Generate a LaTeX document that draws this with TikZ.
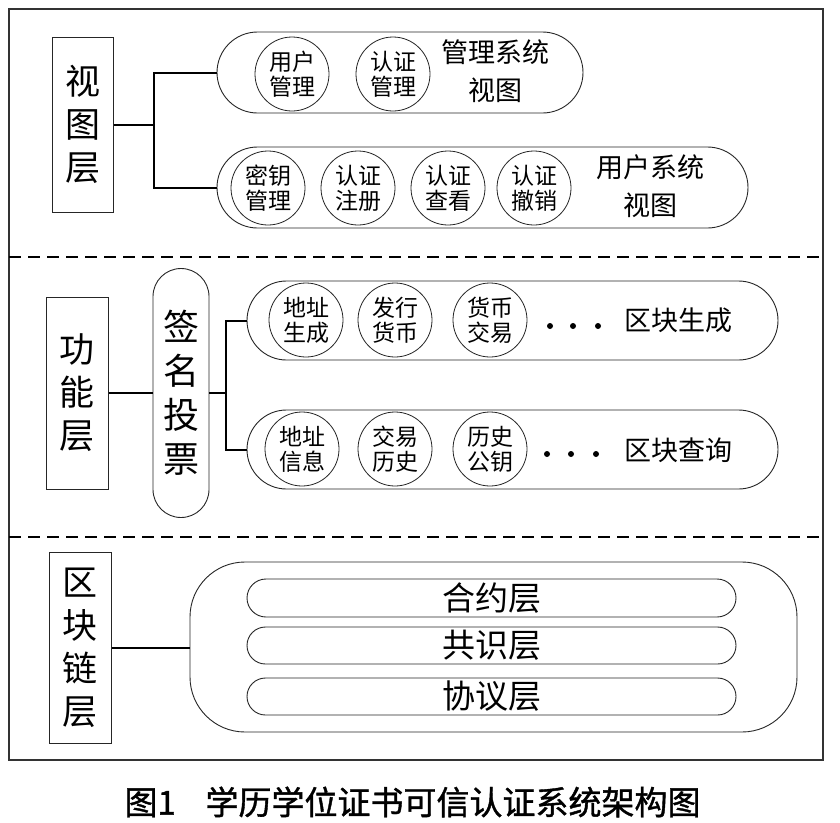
\documentclass[tikz,border=0pt]{standalone}
\usepackage{fontspec}
\setmainfont{Noto Sans CJK SC}
\newfontfamily\capfont[FakeBold=1.2]{Noto Sans CJK SC}
\begin{document}
\begin{tikzpicture}[x=1pt,y=-1pt,
  layerbox/.style={draw=black!85, line width=1pt, inner sep=0pt, align=center, font=\fontsize{35}{43}\selectfont},
  capsule/.style={draw=black!85, line width=0.9pt, rounded corners=#1, inner sep=0pt},
  circ/.style={draw=black!85, circle, line width=0.8pt, minimum size=74pt, inner sep=0pt, align=center, font=\fontsize{23}{25}\selectfont},
  ttl/.style={align=center, font=\fontsize{27}{38}\selectfont},
  inner/.style={align=center, font=\fontsize{33}{38}\selectfont},
  conn/.style={line width=2pt},
  sepline/.style={line width=1.8pt, dash pattern=on 12pt off 7pt},
  dotm/.style={fill=black, circle, inner sep=0pt, minimum size=6pt}
]
\useasboundingbox (0,0) rectangle (840,822);
\fill[white] (0,0) rectangle (840,822);
% outer frame
\draw[black!80, line width=1.2pt] (9,9) rectangle (823,760);
\draw[sepline] (9,257) -- (823,257);
\draw[sepline] (9,537) -- (823,537);

% ===== view layer =====
\node[layerbox, minimum width=61pt, minimum height=175pt] (vbox) at (82.5,124.5) {视\\图\\层};
\node[capsule=40.5pt, minimum width=366pt, minimum height=81pt] (cap1) at (400,72.5) {};
\node[capsule=40.5pt, minimum width=531pt, minimum height=81pt] (cap2) at (482.5,187.5) {};
\coordinate (vj) at (154,124.5);
\draw[conn] (vbox.east) -- (vj);
\draw[conn] (cap1.west) -| (vj);
\draw[conn] (cap2.west) -| (vj);
\node[circ] (c11) at (292,74) {用户\\管理};
\node[circ] (c12) at (393,74) {认证\\管理};
\node[ttl] (t1) at (495,71) {管理系统\\视图};
\node[circ] (c21) at (268,188) {密钥\\管理};
\node[circ] (c22) at (358,188) {认证\\注册};
\node[circ] (c23) at (448,188) {认证\\查看};
\node[circ] (c24) at (534,188) {认证\\撤销};
\node[ttl] (t2) at (650,186) {用户系统\\视图};

% ===== function layer =====
\node[layerbox, minimum width=62pt, minimum height=192pt] (fbox) at (77,393) {功\\能\\层};
\node[capsule=28pt, minimum width=56pt, minimum height=249pt, align=center, font=\fontsize{36}{44}\selectfont] (sig) at (181,393) {签\\名\\投\\票};
\draw[conn] (fbox.east) -- (sig.west);
\node[capsule=39.5pt, minimum width=531pt, minimum height=79pt] (cap3) at (512.5,320.5) {};
\node[capsule=39.5pt, minimum width=531pt, minimum height=79pt] (cap4) at (512.5,449.5) {};
\coordinate (fj) at (226,393);
\draw[conn] (sig.east) -- (fj);
\draw[conn] (cap3.west) -| (fj);
\draw[conn] (cap4.west) -| (fj);
\node[circ] (c31) at (306,320) {地址\\生成};
\node[circ] (c32) at (395,320) {发行\\货币};
\node[circ] (c33) at (490,320) {货币\\交易};
\node[dotm] (d31) at (550,326) {};
\node[dotm] (d32) at (573,326) {};
\node[dotm] (d33) at (598,326) {};
\node[ttl] (t3) at (678,320) {区块生成};
\node[circ] (c41) at (302,449) {地址\\信息};
\node[circ] (c42) at (395,449) {交易\\历史};
\node[circ] (c43) at (490,449) {历史\\公钥};
\node[dotm] (d41) at (547,454) {};
\node[dotm] (d42) at (571,454) {};
\node[dotm] (d43) at (596,454) {};
\node[ttl] (t4) at (678,450) {区块查询};

% ===== blockchain layer =====
\node[layerbox, minimum width=62pt, minimum height=191pt] (bbox) at (80,647.5) {区\\块\\链\\层};
\node[capsule=55pt, minimum width=607pt, minimum height=170pt] (big) at (493.5,647) {};
\draw[conn] (bbox.east) -- (bbox.east -| big.west);
\node[capsule=19pt, minimum width=489pt, minimum height=38pt, inner] (l1) at (491.5,598) {};
\node[capsule=18.5pt, minimum width=489pt, minimum height=37pt] (l2) at (491.5,645.5) {};
\node[capsule=18.5pt, minimum width=489pt, minimum height=37pt] (l3) at (491.5,696.5) {};
\node[inner] at (l1.center) {合约层};
\node[inner] at (l2.center) {共识层};
\node[inner] at (l3.center) {协议层};

% caption
\node[font=\capfont\fontsize{33}{36}\selectfont, anchor=west] (cap) at (121,802) {图1\hspace{0.9em}学历学位证书可信认证系统架构图};
\end{tikzpicture}
\end{document}
